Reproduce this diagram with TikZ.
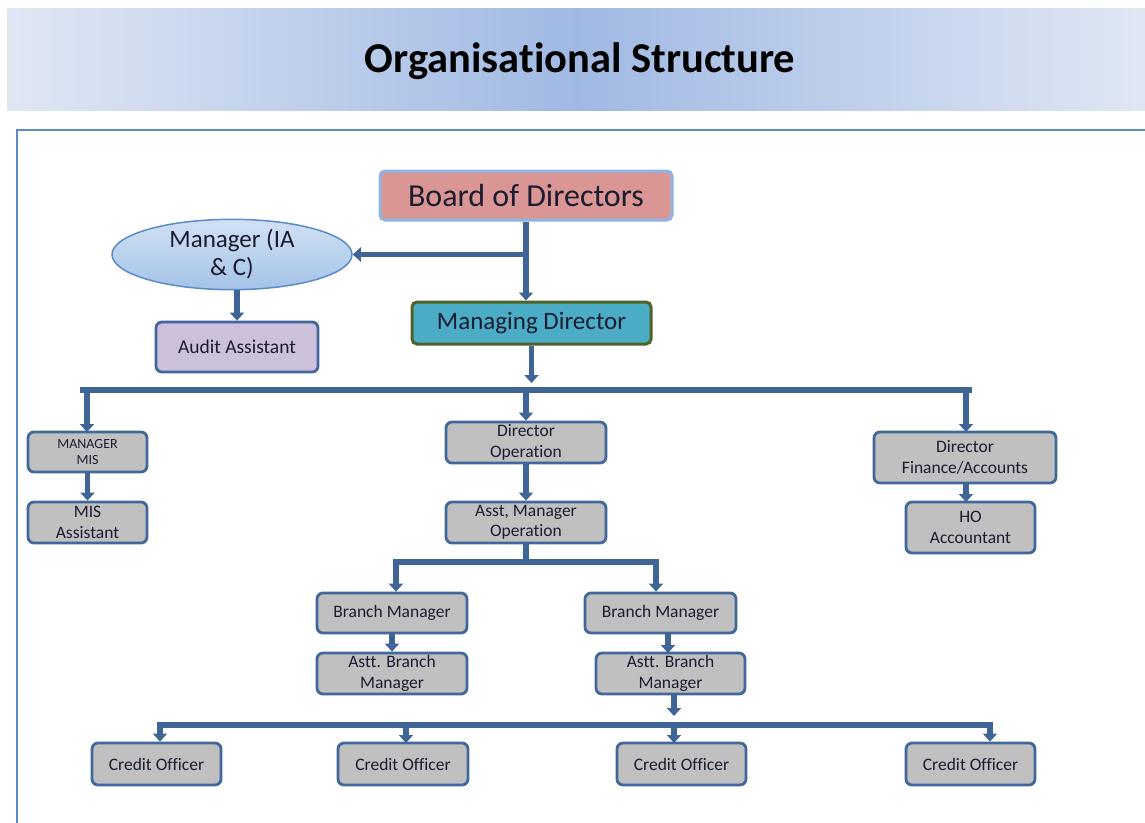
\documentclass[tikz,border=0pt]{standalone}
\usepackage{fontspec}
\setmainfont{Carlito}[RawFeature={-liga;-clig;-calt;-dlig}]
\usetikzlibrary{arrows.meta,shapes.geometric}

\definecolor{connblue}{HTML}{3E6596}
\definecolor{boxedge}{HTML}{41679B}
\definecolor{boxgrey}{HTML}{C0C0C0}
\definecolor{bodfill}{HTML}{DA9694}
\definecolor{bodedge}{HTML}{8DB4E2}
\definecolor{mdfill}{HTML}{4BACC6}
\definecolor{mdedge}{HTML}{4F6228}
\definecolor{auditfill}{HTML}{CCC0DA}
\definecolor{ink}{HTML}{1C1C30}
\definecolor{bannermid}{HTML}{A0B9E3}
\definecolor{banneredge}{HTML}{E0E7F4}
\definecolor{framecol}{HTML}{5B8BC9}

\tikzset{
  orgbox/.style={draw=boxedge, line width=2.8pt, fill=boxgrey, rounded corners=6pt,
    align=center, inner sep=0pt, text=ink, font=\fontsize{17.5}{20.5}\selectfont},
  conn/.style={draw=connblue, line width=5.5pt},
  tip/.style={conn, -{Triangle[width=14pt,length=8pt]}}
}

\begin{document}
\begin{tikzpicture}[x=1pt,y=-1pt]
\useasboundingbox (0,0) rectangle (1145,822);
\fill[white] (0,0) rectangle (1145,822);

% title banner
\shade[left color=banneredge, right color=banneredge, middle color=bannermid]
  (7,8) rectangle (1145,110);
\node[font=\bfseries\fontsize{42.5}{48}\selectfont, text=black] (title) at (580,61) {Organisational Structure};

% content frame
\draw[framecol, line width=2pt] (1150,130) -- (17,130) -- (17,830);

% top of the chart
\node[draw=bodedge, line width=3pt, fill=bodfill, rounded corners=5pt,
  minimum width=292pt, minimum height=49pt, inner sep=0pt, text=ink,
  font=\fontsize{32}{36}\selectfont] (bod) at (526,195.5) {Board of Directors};
\node[ellipse, draw=framecol, line width=1.5pt, top color=white!60!bodedge, bottom color=bodedge!80!white,
  minimum width=240pt, minimum height=53pt, inner sep=0pt, align=center, text=ink,
  font=\fontsize{25}{28}\selectfont] (mgr) at (232,254.5) {Manager (IA\\\& C)};
\node[draw=mdedge, line width=3pt, fill=mdfill, rounded corners=5pt,
  minimum width=239pt, minimum height=42pt, inner sep=0pt, text=ink,
  font=\fontsize{25}{28}\selectfont] (md) at (531.5,323) {Managing Director};
\node[orgbox, fill=auditfill, minimum width=162pt, minimum height=50pt,
  font=\fontsize{19.5}{22}\selectfont] (audit) at (237,347) {Audit Assistant};

% directors and their staff
\node[orgbox, minimum width=119pt, minimum height=40pt, font=\fontsize{14}{16.5}\selectfont]
  (mmis) at (87.5,452) {MANAGER\\MIS};
\node[orgbox, minimum width=119pt, minimum height=41pt] (misa) at (87.5,522.5) {MIS\\Assistant};
\node[orgbox, minimum width=160pt, minimum height=41pt] (dop) at (526,442.5) {Director\\Operation};
\node[orgbox, minimum width=160pt, minimum height=41pt] (amo) at (526,522.5) {Asst, Manager\\Operation};
\node[orgbox, minimum width=182pt, minimum height=51pt] (dfa) at (965,457.5) {Director\\Finance/Accounts};
\node[orgbox, minimum width=129pt, minimum height=51pt] (hoa) at (970.5,527.5) {HO\\Accountant};

% branches
\node[orgbox, minimum width=150pt, minimum height=40pt] (bm1) at (392,613) {Branch Manager};
\node[orgbox, minimum width=151pt, minimum height=40pt] (bm2) at (660.5,613) {Branch Manager};
\node[orgbox, minimum width=150pt, minimum height=41pt] (abm1) at (392,673.5) {Astt. Branch\\Manager};
\node[orgbox, minimum width=149pt, minimum height=41pt] (abm2) at (670.5,673.5) {Astt. Branch\\Manager};

% credit officers
\node[orgbox, minimum width=129pt, minimum height=42pt] (co1) at (156.5,764) {Credit Officer};
\node[orgbox, minimum width=130pt, minimum height=42pt] (co2) at (403,764) {Credit Officer};
\node[orgbox, minimum width=129pt, minimum height=42pt] (co3) at (681.5,764) {Credit Officer};
\node[orgbox, minimum width=129pt, minimum height=42pt] (co4) at (970.5,764) {Credit Officer};

% connectors: board level
\coordinate (split) at (bod.south |- mgr.east);
\draw[tip] (bod.south) -- (bod.south |- md.north);
\draw[tip] (split) -- (mgr.east);
\draw[tip] (mgr.south -| audit.north) -- (audit.north);

% first bus
\coordinate (b1L) at (80,390);
\coordinate (b1R) at (972,390);
\draw[conn] (b1L) -- (b1R);
\draw[tip, shorten >=7pt] (md.south) -- (md.south |- b1L);
\draw[tip] (87,390) -- (87 ,432);
\draw[tip] (dop.north |- b1L) -- (dop.north);
\draw[tip] (966,390) -- (966,432);
\draw[tip] (mmis.south) -- (misa.north);
\draw[tip] (dop.south) -- (amo.north);
\draw[tip] (966,483) -- (966,502);

% second bus
\coordinate (b2L) at (396,562);
\coordinate (b2R) at (656,562);
\draw[conn] (amo.south) -- (amo.south |- b2L);
\draw[conn] ([xshift=-2.75pt]b2L) -- ([xshift=2.75pt]b2R);
\draw[tip] (b2L) -- (b2L |- bm1.north);
\draw[tip] (b2R) -- (b2R |- bm2.north);
\draw[tip] (bm1.south) -- (abm1.north);
\draw[tip] (668,633) -- (668,653);

% third bus
\coordinate (b3L) at (160,725);
\coordinate (b3R) at (990,725);
\draw[tip] (674,694) -- (674,716);
\draw[conn] ([xshift=-2.75pt]b3L) -- ([xshift=2.75pt]b3R);
\draw[tip] (b3L) -- (b3L |- co1.north);
\draw[tip] (406,725) -- (406,743);
\draw[tip] (674,725) -- (674,743);
\draw[tip] (b3R) -- (b3R |- co4.north);
\end{tikzpicture}
\end{document}
